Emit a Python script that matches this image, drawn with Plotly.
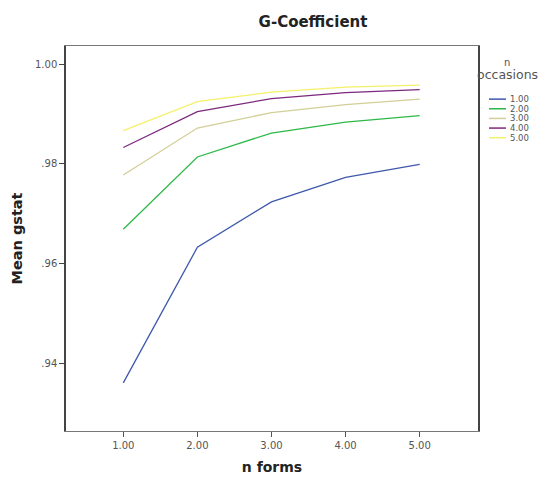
import plotly.graph_objects as go

n_forms = [1, 2, 3, 4, 5]
x_tick_vals = [1, 2, 3, 4, 5]
x_tick_text = ["1.00", "2.00", "3.00", "4.00", "5.00"]
y_tick_vals = [0.94, 0.96, 0.98, 1.00]
y_tick_text = [".94", ".96", ".98", "1.00"]

occasions = ["1.00", "2.00", "3.00", "4.00", "5.00"]
gstat_occ1 = [0.9361, 0.9633, 0.9724, 0.9773, 0.9799]
gstat_occ2 = [0.9669, 0.9814, 0.9862, 0.9884, 0.9897]
gstat_occ3 = [0.9778, 0.9872, 0.9903, 0.9919, 0.9930]
gstat_occ4 = [0.9833, 0.9905, 0.9931, 0.9943, 0.9949]
gstat_occ5 = [0.9867, 0.9925, 0.9944, 0.9954, 0.9958]
series = [gstat_occ1, gstat_occ2, gstat_occ3, gstat_occ4, gstat_occ5]
colors = ["#3E58AC", "#2EB848", "#D3CE97", "#7C287D", "#F5F06A"]

W, H = 540, 485
L, R, T, B = 66, 62, 46, 44
PW, PH = W - L - R, H - T - B


def px_x(px):
    return (px - L) / PW


def px_y(py):
    return (H - B - py) / PH


fig = go.Figure()
for name, ys, col in zip(occasions, series, colors):
    fig.add_trace(go.Scatter(x=n_forms, y=ys, mode="lines", name=name,
                             line=dict(color=col, width=1.3), showlegend=False))

# custom compact legend
legend_font = dict(family="DejaVu Sans", size=8.5, color="#555")
fig.add_annotation(x=px_x(507), y=px_y(63), xref="paper", yref="paper",
                   text="n", showarrow=False, xanchor="center", yanchor="middle",
                   font=dict(family="DejaVu Sans", size=10, color="#555"))
fig.add_annotation(x=px_x(507.5), y=px_y(75), xref="paper", yref="paper",
                   text="occasions", showarrow=False, xanchor="center", yanchor="middle",
                   font=dict(family="DejaVu Sans", size=12.5, color="#555"))
for i, (name, col) in enumerate(zip(occasions, colors)):
    yy = 100.5 + i * 9.9
    fig.add_shape(type="line", xref="paper", yref="paper",
                  x0=px_x(489), x1=px_x(506), y0=px_y(yy), y1=px_y(yy),
                  line=dict(color=col, width=1.5))
    fig.add_annotation(x=px_x(508), y=px_y(yy), xref="paper", yref="paper",
                       text=name, showarrow=False, xanchor="left", yanchor="middle",
                       font=legend_font)

fig.update_layout(
    width=W, height=H,
    margin=dict(l=L, r=R, t=T, b=B),
    paper_bgcolor="white", plot_bgcolor="white",
    title=dict(text="<b>G-Coefficient</b>", x=313 / W, xanchor="center",
               y=1 - 22 / H, yanchor="middle",
               font=dict(family="DejaVu Sans", size=15, color="#222")),
    showlegend=False,
)
fig.update_xaxes(
    range=[0.227, 5.787], tickvals=x_tick_vals, ticktext=x_tick_text,
    showgrid=False, zeroline=False,
    showline=True, linecolor="#777", linewidth=1, mirror=True,
    ticks="outside", ticklen=5, tickcolor="#555", tickwidth=1,
    tickfont=dict(family="DejaVu Sans", size=10, color="#555"),
    title=dict(text="<b>n forms</b>", standoff=12,
               font=dict(family="DejaVu Sans", size=14, color="#222")),
)
fig.update_yaxes(
    range=[0.92646, 1.00365], tickvals=y_tick_vals, ticktext=y_tick_text,
    showgrid=False, zeroline=False,
    showline=True, linecolor="#444", linewidth=1.5, mirror=True,
    ticks="outside", ticklen=5, tickcolor="#444", tickwidth=1,
    tickfont=dict(family="DejaVu Sans", size=10, color="#555"),
    title=dict(text="<b>Mean gstat</b>", standoff=9,
               font=dict(family="DejaVu Sans", size=14.5, color="#222")),
)

fig.write_html("out.html", config={"displayModeBar": False},
               post_script="document.body.style.margin='0px';"
                           "document.body.style.overflow='hidden';")
